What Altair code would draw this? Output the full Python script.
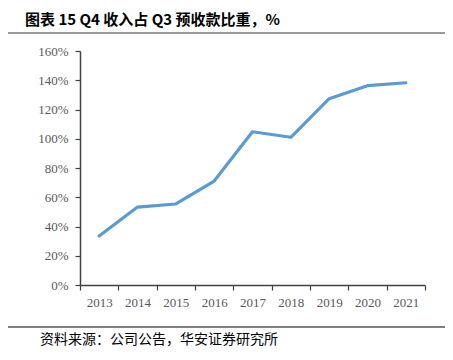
import altair as alt
import pandas as pd

years = ["2013", "2014", "2015", "2016", "2017", "2018", "2019", "2020", "2021"]
ratio = [0.335, 0.533, 0.554, 0.711, 1.048, 1.010, 1.274, 1.363, 1.383]

title_text = "图表 15 Q4 收入占 Q3 预收款比重，%"
source_text = "资料来源：公司公告，华安证券研究所"

df = pd.DataFrame({"year": years, "ratio": ratio})
one = alt.Data(values=[{"a": 1}])

base = alt.Chart(df)

line = base.mark_line(color="#5B9BD5", strokeWidth=3.2, strokeCap="round", strokeJoin="round").encode(
    x=alt.X("year:O", title=None,
            scale=alt.Scale(type="band", paddingInner=0, paddingOuter=0),
            axis=alt.Axis(labelAngle=0, tickBand="extent", labelFont="Liberation Serif",
                          labelFontSize=13, labelColor="#595959", labelPadding=6,
                          domainColor="#404040", domainWidth=1.5, tickColor="#404040",
                          tickWidth=1.2, tickSize=5, grid=False)),
    y=alt.Y("ratio:Q", title=None,
            scale=alt.Scale(domain=[0, 1.6], nice=False),
            axis=alt.Axis(format=".0%", values=[0, 0.2, 0.4, 0.6, 0.8, 1.0, 1.2, 1.4, 1.6],
                          labelFont="Liberation Serif", labelFontSize=13, labelColor="#595959",
                          labelPadding=7, domainColor="#404040", domainWidth=1.5,
                          tickColor="#404040", tickWidth=1.2, tickSize=5, grid=False)),
)

title = alt.Chart(one).mark_text(
    text=title_text, align="left", baseline="alphabetic", font="Noto Sans CJK SC",
    fontWeight="bold", fontSize=15, color="#000000"
).encode(x=alt.value(-55), y=alt.value(-26))

title_rule = alt.Chart(one).mark_rule(color="#999999", strokeWidth=2).encode(
    x=alt.value(-72), x2=alt.value(365), y=alt.value(-18))

bottom_rule = alt.Chart(one).mark_rule(color="#555555", strokeWidth=1.5).encode(
    x=alt.value(-72), x2=alt.value(365), y=alt.value(276))

source = alt.Chart(one).mark_text(
    text=source_text, align="left", baseline="middle", font="Noto Sans CJK SC",
    fontSize=14, color="#000000"
).encode(x=alt.value(-40), y=alt.value(289))

chart = alt.layer(line, title, title_rule, bottom_rule, source).properties(
    width=345, height=234,
    autosize=alt.AutoSizeParams(type="none"),
    padding={"left": 72, "top": 43, "right": 20, "bottom": 67},
).configure_view(stroke=None)

chart.save("out.html", embed_options={"renderer": "svg", "actions": False})
